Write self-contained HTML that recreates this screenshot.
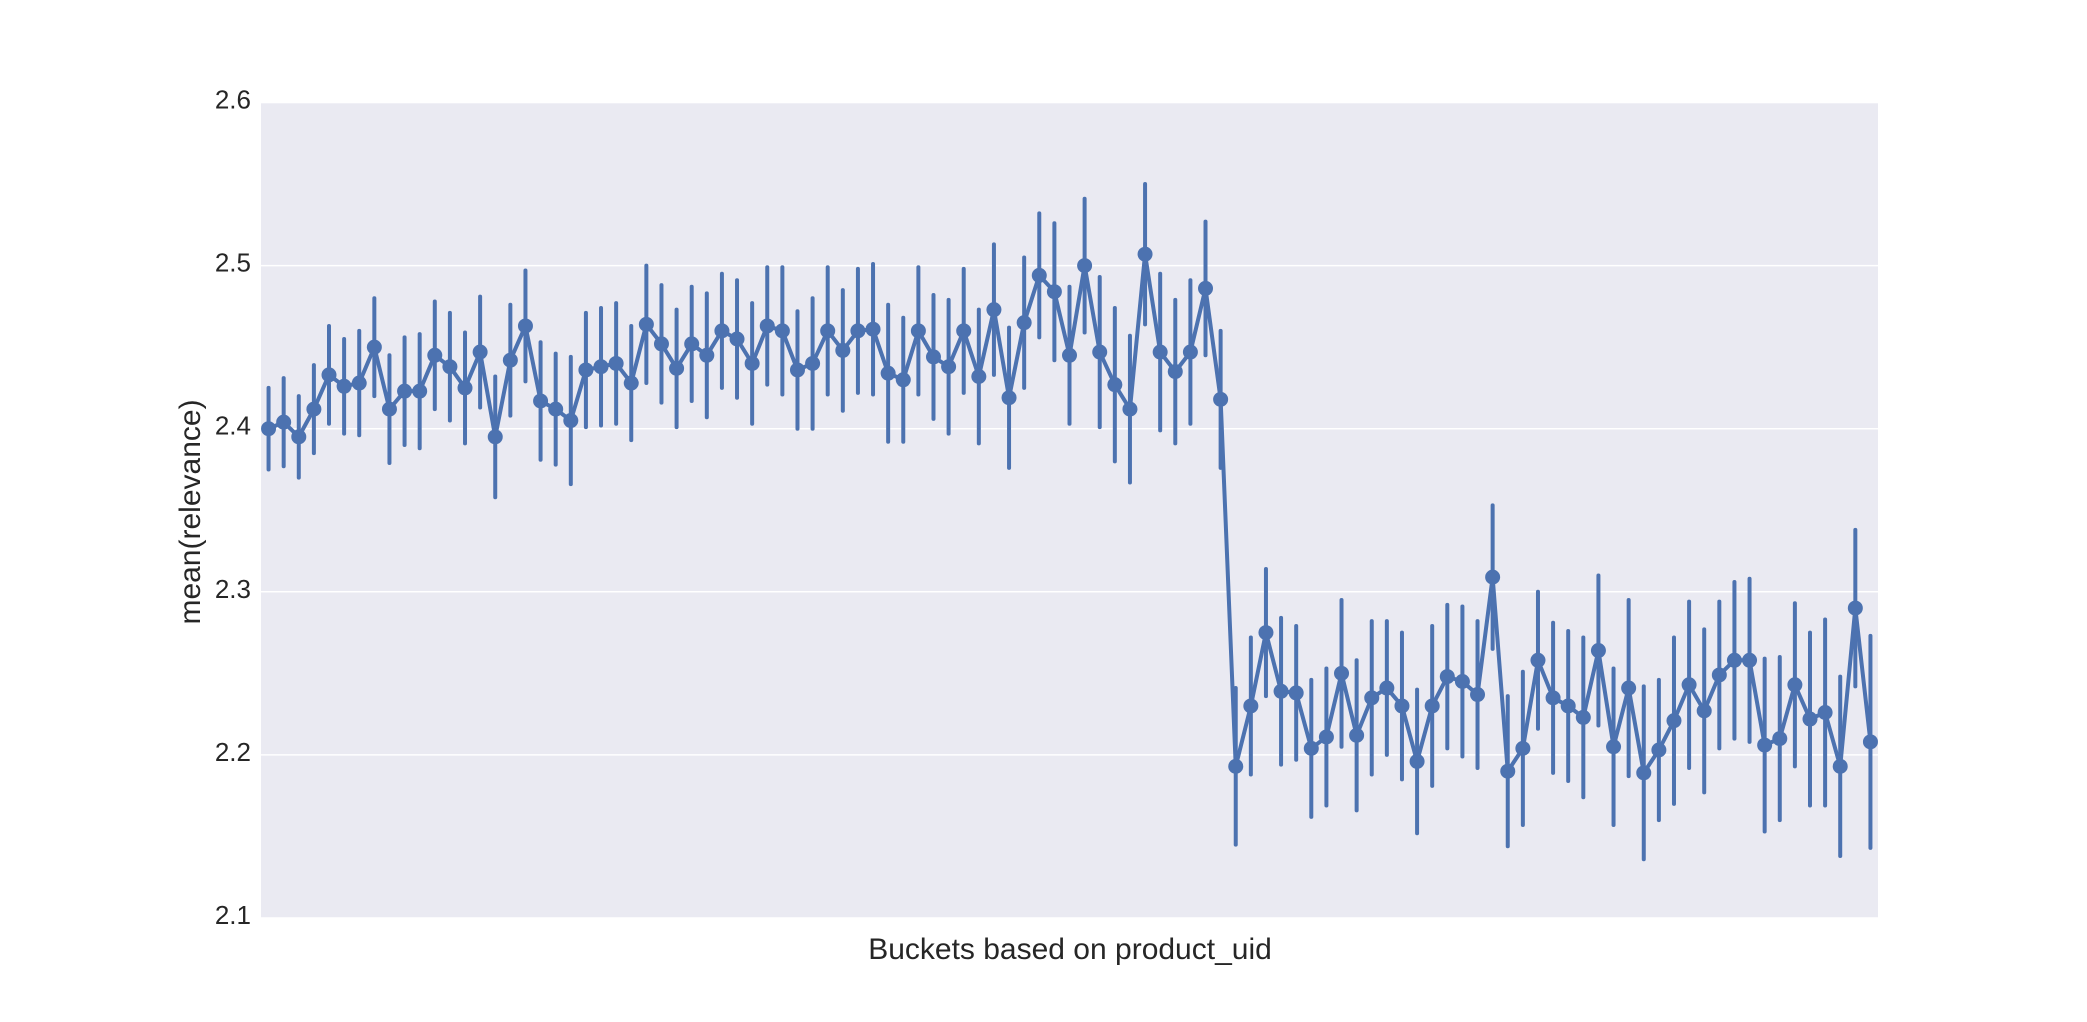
<!DOCTYPE html>
<html><head><meta charset="utf-8"><style>
body{margin:0;background:#fff;}
svg{display:block;font-family:"Liberation Sans",sans-serif;}
</style></head><body>
<svg id="chart" width="2087" height="1022">
<rect x="261" y="102.5" width="1617" height="815.5" fill="#eaeaf2"/>
<g id="grid"></g><g id="yticks"></g><g id="marks"></g>
<text x="1070" y="959" font-size="30" text-anchor="middle" fill="#262626">Buckets based on product_uid</text>
<text transform="translate(200,512) rotate(-90)" font-size="30" text-anchor="middle" fill="#262626">mean(relevance)</text>
</svg>
<script>
const means1=[2.400,2.404,2.395,2.412,2.433,2.426,2.428,2.450,2.412,2.423,2.423,2.445,2.438,2.425,2.447,2.395,2.442,2.463,2.417,2.412,2.405,2.436,2.438,2.440,2.428,2.464,2.452,2.437,2.452,2.445,2.460,2.455,2.440,2.463,2.460,2.436,2.440,2.460,2.448,2.460,2.461,2.434,2.430,2.460,2.444,2.438,2.460,2.432,2.473,2.419,2.465,2.494,2.484,2.445,2.500,2.447,2.427,2.412,2.507,2.447,2.435,2.447,2.486,2.418];
const means2=[2.193,2.230,2.275,2.239,2.238,2.204,2.211,2.250,2.212,2.235,2.241,2.230,2.196,2.230,2.248,2.245,2.237,2.309,2.190,2.204,2.258,2.235,2.230,2.223,2.264,2.205,2.241,2.189,2.203,2.221,2.243,2.227,2.249,2.258,2.258,2.206,2.210,2.243,2.222,2.226,2.193,2.290,2.208];
const ci1=[0.025,0.027,0.025,0.027,0.03,0.029,0.032,0.03,0.033,0.033,0.035,0.033,0.033,0.034,0.034,0.037,0.034,0.034,0.036,0.034,0.039,0.035,0.036,0.037,0.035,0.036,0.036,0.036,0.035,0.038,0.035,0.036,0.037,0.036,0.039,0.036,0.04,0.039,0.037,0.038,0.04,0.042,0.038,0.039,0.038,0.041,0.038,0.041,0.04,0.043,0.04,0.038,0.042,0.042,0.041,0.046,0.047,0.045,0.043,0.048,0.044,0.044,0.041,0.042];
const ci2=[0.048,0.042,0.039,0.045,0.041,0.042,0.042,0.045,0.046,0.047,0.041,0.045,0.044,0.049,0.044,0.046,0.045,0.044,0.046,0.047,0.042,0.046,0.046,0.049,0.046,0.048,0.054,0.053,0.043,0.051,0.051,0.05,0.045,0.048,0.05,0.053,0.05,0.05,0.053,0.057,0.055,0.048,0.065];
const yTicks=[2.1,2.2,2.3,2.4,2.5,2.6];
const means=means1.concat(means2), ci=ci1.concat(ci2);
const L=261,R=1878,T=102.5,B=918,n=means.length;
const xs=i=>L+(i+0.5)*(R-L)/n;
const ys=v=>B-(v-2.1)/0.5*(B-T);
const NS="http://www.w3.org/2000/svg";
function mk(tag,attrs,parent){const e=document.createElementNS(NS,tag);for(const k in attrs)e.setAttribute(k,attrs[k]);parent.appendChild(e);return e;}
const grid=document.getElementById('grid'),yt=document.getElementById('yticks'),marks=document.getElementById('marks');
yTicks.forEach(t=>{
  const g=mk('line',{x1:L,x2:R,y1:ys(t),y2:ys(t),stroke:'#fff','stroke-width':1.5},grid);
  
  
  const tx=mk('text',{x:251,y:ys(t)+6,'font-size':26,'text-anchor':'end',fill:'#262626'},yt);
  tx.textContent=t.toFixed(1);
  
  
});
means.forEach((m,i)=>{
  const e=mk('line',{x1:xs(i),x2:xs(i),y1:ys(m-ci[i]),y2:ys(m+ci[i]),stroke:'#4c72b0','stroke-width':4,'stroke-linecap':'round'},marks);
  
  
});
const pl=mk('polyline',{points:means.map((m,i)=>xs(i)+','+ys(m)).join(' '),fill:'none',stroke:'#4c72b0','stroke-width':4,'stroke-linejoin':'round'},marks);


means.forEach((m,i)=>{
  const c=mk('circle',{cx:xs(i),cy:ys(m),r:7.5,fill:'#4c72b0'},marks);
  
  
});
</script>
</body></html>
